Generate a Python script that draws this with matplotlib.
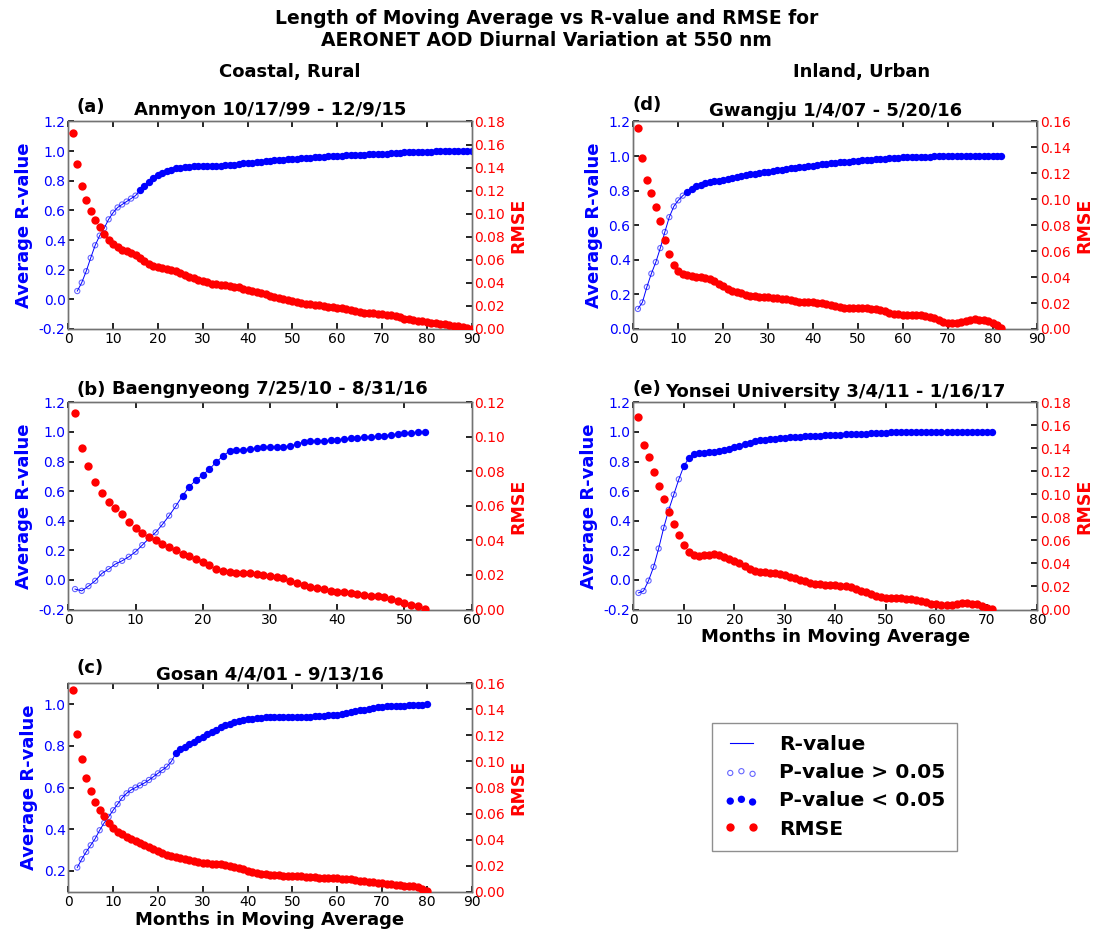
import numpy as np
import matplotlib
matplotlib.use("Agg")
import matplotlib.pyplot as plt
from matplotlib.lines import Line2D

# ---------------- data ----------------
# (a) Anmyon
a_r_months = np.arange(2, 91)
a_r = [0.056, 0.113, 0.19, 0.28, 0.365, 0.43, 0.48, 0.54, 0.585,
       0.62, 0.64, 0.66, 0.68, 0.70, 0.735, 0.765, 0.795, 0.82, 0.838,
       0.853, 0.865, 0.875, 0.883, 0.889, 0.893, 0.896, 0.898, 0.899, 0.900,
       0.901, 0.902, 0.902, 0.903, 0.904, 0.906, 0.909, 0.913, 0.917, 0.920,
       0.923, 0.926, 0.929, 0.932, 0.935, 0.937, 0.940, 0.942, 0.944, 0.947,
       0.950, 0.953, 0.955, 0.957, 0.959, 0.961, 0.963, 0.964, 0.966, 0.968,
       0.969, 0.971, 0.972, 0.974, 0.975, 0.977, 0.978, 0.979, 0.980, 0.981,
       0.983, 0.985, 0.987, 0.989, 0.991, 0.993, 0.994, 0.995, 0.996, 0.997,
       0.997, 0.998, 0.998, 0.998, 0.999, 0.999, 0.999, 1.0, 1.0, 1.0]
a_e_months = np.arange(1, 91)
a_e = [0.170, 0.1433, 0.124, 0.1118, 0.1023, 0.0942, 0.0881, 0.0821, 0.0769, 0.074,
       0.0708, 0.0688, 0.0673, 0.0659, 0.0639, 0.0615, 0.0592, 0.0566, 0.0549, 0.0537,
       0.0529, 0.052, 0.0509, 0.050, 0.0485, 0.0471, 0.0454, 0.0439, 0.0425, 0.0413,
       0.0405, 0.0393, 0.039, 0.0385, 0.038, 0.0375, 0.0368, 0.036, 0.035, 0.034,
       0.033, 0.032, 0.031, 0.030, 0.029, 0.028, 0.027, 0.026, 0.025, 0.024,
       0.023, 0.0225, 0.022, 0.0215, 0.021, 0.0205, 0.020, 0.0195, 0.019, 0.0185,
       0.018, 0.0172, 0.0165, 0.0155, 0.0148, 0.0142, 0.0138, 0.0135, 0.0133, 0.013,
       0.0125, 0.0118, 0.011, 0.010, 0.009, 0.0083, 0.0077, 0.0072, 0.0066, 0.006,
       0.0055, 0.005, 0.0045, 0.004, 0.0036, 0.003, 0.0022, 0.0015, 0.0008, 0.0]
a_sig_from = 16

# (b) Baengnyeong
b_r_months = np.arange(1, 54)
b_r = [-0.062, -0.074, -0.042, -0.006, 0.044, 0.073, 0.107, 0.129, 0.156, 0.190,
       0.235, 0.28, 0.321, 0.375, 0.434, 0.499, 0.569, 0.63, 0.675, 0.709,
       0.749, 0.796, 0.837, 0.871, 0.878, 0.88, 0.884, 0.889, 0.896, 0.898,
       0.898, 0.90, 0.905, 0.918, 0.932, 0.936, 0.939, 0.941, 0.943, 0.948,
       0.952, 0.957, 0.961, 0.963, 0.968, 0.97, 0.975, 0.981, 0.986, 0.99,
       0.995, 0.997, 1.0]
b_e_months = np.arange(1, 54)
b_e = [0.114, 0.0937, 0.0831, 0.074, 0.0672, 0.0624, 0.0589, 0.0551, 0.0506, 0.0471,
       0.0444, 0.0421, 0.0402, 0.0381, 0.0363, 0.0342, 0.0323, 0.0309, 0.0294, 0.0274,
       0.0255, 0.0236, 0.0224, 0.0216, 0.0214, 0.0213, 0.0209, 0.0205, 0.0201, 0.0195,
       0.0189, 0.018, 0.0166, 0.0155, 0.0141, 0.0131, 0.0124, 0.0116, 0.0108, 0.0102,
       0.0099, 0.0095, 0.0089, 0.0085, 0.0081, 0.0077, 0.0072, 0.006, 0.005, 0.0035,
       0.0025, 0.0019, 0.0004]
b_sig_from = 17

# (c) Gosan
c_r_months = np.arange(2, 81)
c_r = [0.216, 0.256, 0.291, 0.323, 0.355, 0.395, 0.43, 0.459, 0.491,
       0.52, 0.55, 0.572, 0.588, 0.60, 0.61, 0.622, 0.636, 0.652, 0.668,
       0.684, 0.70, 0.725, 0.765, 0.783, 0.795, 0.808, 0.82, 0.832, 0.843,
       0.855, 0.866, 0.877, 0.888, 0.898, 0.906, 0.913, 0.919, 0.924, 0.928,
       0.931, 0.933, 0.935, 0.936, 0.937, 0.937, 0.937, 0.937, 0.937, 0.937,
       0.938, 0.938, 0.939, 0.940, 0.941, 0.942, 0.944, 0.946, 0.948, 0.950,
       0.954, 0.958, 0.962, 0.966, 0.970, 0.974, 0.978, 0.982, 0.985, 0.987,
       0.989, 0.990, 0.991, 0.992, 0.993, 0.994, 0.995, 0.996, 0.998, 1.0]
c_e_months = np.arange(1, 81)
c_e = [0.155, 0.121, 0.102, 0.0876, 0.0776, 0.069, 0.0627, 0.058, 0.0525, 0.0486,
       0.046, 0.0443, 0.0422, 0.0402, 0.0387, 0.0371, 0.0355, 0.034, 0.0326, 0.031,
       0.0295, 0.0283, 0.0273, 0.0264, 0.0256, 0.0248, 0.0241, 0.0234, 0.0228, 0.0223,
       0.0219, 0.0216, 0.0213, 0.021, 0.0205, 0.0198, 0.0189, 0.018, 0.0171, 0.0162,
       0.0154, 0.0146, 0.0139, 0.0133, 0.0128, 0.0126, 0.0125, 0.0124, 0.0124, 0.0123,
       0.0121, 0.0118, 0.0115, 0.0112, 0.011, 0.0108, 0.0106, 0.0104, 0.0103, 0.0102,
       0.0101, 0.01, 0.0096, 0.009, 0.0084, 0.008, 0.0076, 0.0072, 0.0068, 0.0064,
       0.006, 0.0056, 0.0052, 0.0048, 0.0046, 0.0045, 0.0044, 0.0033, 0.0018, 0.0003]
c_sig_from = 24

# (d) Gwangju
d_r_months = np.arange(1, 83)
d_r = [0.116, 0.154, 0.243, 0.32, 0.387, 0.468, 0.561, 0.647, 0.709, 0.744,
       0.771, 0.792, 0.811, 0.825, 0.834, 0.843, 0.849, 0.854, 0.858, 0.863,
       0.868, 0.874, 0.879, 0.884, 0.889, 0.894, 0.898, 0.902, 0.906, 0.909,
       0.913, 0.917, 0.921, 0.925, 0.929, 0.932, 0.936, 0.939, 0.942, 0.945,
       0.948, 0.952, 0.955, 0.958, 0.961, 0.963, 0.966, 0.968, 0.970, 0.973,
       0.975, 0.977, 0.979, 0.981, 0.983, 0.985, 0.987, 0.989, 0.991, 0.993,
       0.994, 0.995, 0.996, 0.996, 0.997, 0.997, 0.998, 0.998, 0.998, 0.999,
       0.999, 0.999, 0.999, 0.999, 1.0, 1.0, 1.0, 1.0, 1.0, 1.0,
       1.0, 1.0]
d_e_months = np.arange(1, 83)
d_e = [0.155, 0.1317, 0.115, 0.1045, 0.0943, 0.083, 0.0683, 0.058, 0.0496, 0.0444,
       0.0424, 0.0413, 0.0406, 0.040, 0.0398, 0.0393, 0.0383, 0.0367, 0.0349, 0.0329,
       0.0311, 0.0295, 0.0285, 0.0275, 0.0265, 0.0257, 0.0252, 0.0247, 0.0244, 0.0244,
       0.0239, 0.0236, 0.0234, 0.023, 0.0225, 0.0218, 0.0211, 0.0206, 0.0205, 0.0205,
       0.0203, 0.02, 0.0195, 0.0188, 0.018, 0.0172, 0.0165, 0.0162, 0.0161, 0.0161,
       0.0161, 0.016, 0.0158, 0.0152, 0.0144, 0.0135, 0.0125, 0.0117, 0.0112, 0.011,
       0.011, 0.011, 0.0109, 0.0107, 0.0103, 0.0095, 0.0083, 0.007, 0.0057, 0.0047,
       0.0045, 0.0048, 0.0054, 0.0062, 0.0069, 0.0074, 0.0073, 0.0068, 0.0058, 0.0045,
       0.0028, 0.0008]
d_sig_from = 12

# (e) Yonsei University
e_r_months = np.arange(1, 72)
e_r = [-0.088, -0.075, -0.005, 0.088, 0.212, 0.352, 0.473, 0.577, 0.68, 0.77,
       0.823, 0.852, 0.858, 0.86, 0.862, 0.865, 0.87, 0.878, 0.887, 0.896,
       0.907, 0.917, 0.927, 0.936, 0.942, 0.946, 0.950, 0.954, 0.958, 0.961,
       0.963, 0.965, 0.967, 0.969, 0.971, 0.973, 0.975, 0.977, 0.978, 0.980,
       0.981, 0.983, 0.984, 0.985, 0.987, 0.988, 0.990, 0.992, 0.994, 0.995,
       0.996, 0.997, 0.997, 0.998, 0.998, 0.999, 0.999, 0.999, 1.0, 1.0,
       1.0, 1.0, 1.0, 1.0, 1.0, 1.0, 1.0, 1.0, 1.0, 1.0,
       1.0]
e_e_months = np.arange(1, 72)
e_e = [0.1673, 0.1433, 0.1323, 0.1193, 0.1072, 0.0962, 0.0849, 0.074, 0.0644, 0.056,
       0.050, 0.0474, 0.0468, 0.0471, 0.0477, 0.048, 0.0477, 0.0459, 0.0439, 0.0422,
       0.0402, 0.0378, 0.0352, 0.0335, 0.0329, 0.0324, 0.0321, 0.0315, 0.0306, 0.0296,
       0.0285, 0.0272, 0.0258, 0.0245, 0.0233, 0.0224, 0.0218, 0.0215, 0.0214, 0.0213,
       0.0208, 0.0201, 0.0192, 0.0179, 0.0165, 0.015, 0.0135, 0.0121, 0.011, 0.0102,
       0.0099, 0.0098, 0.0097, 0.0095, 0.0092, 0.0085, 0.0075, 0.0063, 0.0052, 0.0044,
       0.004, 0.0039, 0.0043, 0.0048, 0.0053, 0.0055, 0.0052, 0.0044, 0.0032, 0.0016,
       0.0004]
e_sig_from = 10

titles = ["Anmyon 10/17/99 - 12/9/15", "Baengnyeong 7/25/10 - 8/31/16",
          "Gosan 4/4/01 - 9/13/16", "Gwangju 1/4/07 - 5/20/16",
          "Yonsei University 3/4/11 - 1/16/17"]
letters = ["(a)", "(b)", "(c)", "(d)", "(e)"]

# ---------------- figure ----------------
W, H = 1093, 930
fig = plt.figure(figsize=(W / 100, H / 100), dpi=100)
plt.rcParams["font.family"] = ["DejaVu Sans"]
plt.rcParams["axes.unicode_minus"] = True


def rect(left, right, top, bottom):
    return [left / W, 1 - bottom / H, (right - left) / W, (bottom - top) / H]


FS = 13
TICKFS = 10
OPEN_S = 14
FILL_S = 28
RED_MS = 6.0


def panel(rct, rm, r, em, e, sig_from, xmax, rlim, rticks, elim, eticks,
          title, tpad, xlabel=False):
    rm = np.asarray(rm)
    r = np.asarray(r)
    ax = fig.add_axes(rct)
    ax.plot(rm, r, color="blue", lw=0.7, zorder=2)
    ns = rm < sig_from
    ax.scatter(rm[ns], r[ns], s=OPEN_S, facecolors="none", edgecolors="blue",
               linewidths=0.8, alpha=0.6, zorder=3)
    ax.scatter(rm[~ns], r[~ns], s=FILL_S, color="blue", linewidths=0, zorder=3)
    ax.set_xlim(0, xmax)
    ax.set_xticks(np.arange(0, xmax + 1, 10))
    ax.set_ylim(*rlim)
    ax.set_yticks(rticks)
    ax.yaxis.set_major_formatter(matplotlib.ticker.FormatStrFormatter("%.1f"))
    ax.tick_params(direction="in", top=True, length=4, width=1.2,
                   labelsize=TICKFS)
    ax.tick_params(axis="x", pad=2.5)
    ax.tick_params(axis="y", labelcolor="blue", color="black", pad=2)
    ax.set_ylabel("Average R-value", color="blue", fontsize=FS,
                  fontweight="bold", labelpad=4)
    ax.set_title(title, fontsize=FS, fontweight="bold", pad=tpad)
    if xlabel:
        ax.set_xlabel("Months in Moving Average", fontsize=FS,
                      fontweight="bold", labelpad=1)

    ax2 = ax.twinx()
    ax2.plot(em, e, "o", color="red", ms=RED_MS, mew=0, zorder=4)
    ax2.set_ylim(*elim)
    ax2.set_yticks(eticks)
    ax2.yaxis.set_major_formatter(matplotlib.ticker.FormatStrFormatter("%.2f"))
    ax2.tick_params(direction="in", length=4, width=1.2, labelsize=TICKFS,
                    labelcolor="red", pad=2)
    ax2.set_ylabel("RMSE", color="red", fontsize=12.5, fontweight="bold",
                   labelpad=3)
    for a in (ax, ax2):
        for sp in a.spines.values():
            sp.set_color("0.45")
            sp.set_linewidth(1.0)
    return ax, ax2


LX0, LX1 = 68.3, 471.7
RX0, RX1 = 633.4, 1037.4
ROWS = [(121.5, 329.0), (402.3, 609.5), (683.3, 891.7)]

panel(rect(LX0, LX1, *ROWS[0]), a_r_months, a_r, a_e_months, a_e, a_sig_from,
      90, (-0.2, 1.2), np.arange(-0.2, 1.21, 0.2), (0, 0.18),
      np.arange(0, 0.181, 0.02), titles[0], 5)
panel(rect(LX0, LX1, *ROWS[1]), b_r_months, b_r, b_e_months, b_e, b_sig_from,
      60, (-0.2, 1.2), np.arange(-0.2, 1.21, 0.2), (0, 0.12),
      np.arange(0, 0.121, 0.02), titles[1], 6)
panel(rect(LX0, LX1, *ROWS[2]), c_r_months, c_r, c_e_months, c_e, c_sig_from,
      90, (0.1, 1.1), np.arange(0.2, 1.01, 0.2), (0, 0.16),
      np.arange(0, 0.161, 0.02), titles[2], 1.5, xlabel=True)
panel(rect(RX0, RX1, *ROWS[0]), d_r_months, d_r, d_e_months, d_e, d_sig_from,
      90, (0.0, 1.2), np.arange(0.0, 1.21, 0.2), (0, 0.16),
      np.arange(0, 0.161, 0.02), titles[3], 4)
panel(rect(RX0, RX1, *ROWS[1]), e_r_months, e_r, e_e_months, e_e, e_sig_from,
      80, (-0.2, 1.2), np.arange(-0.2, 1.21, 0.2), (0, 0.18),
      np.arange(0, 0.181, 0.02), titles[4], 3.7, xlabel=True)

# panel letters
letter_pos = [(77, 107.5), (77, 390), (77, 668), (633, 105.5), (633, 389.5)]
for lab, (px, py) in zip(letters, letter_pos):
    fig.text(px / W, 1 - py / H, lab, ha="left", va="center", fontsize=FS,
             fontweight="bold")

# titles / headers
fig.text(0.5, 1 - 19 / H, "Length of Moving Average vs R-value and RMSE for",
         ha="center", va="center", fontsize=13.5, fontweight="bold")
fig.text(0.5, 1 - 40 / H, "AERONET AOD Diurnal Variation at 550 nm",
         ha="center", va="center", fontsize=13.5, fontweight="bold")
fig.text(290 / W, 1 - 72 / H, "Coastal, Rural", ha="center", va="center",
         fontsize=FS, fontweight="bold")
fig.text(862 / W, 1 - 72 / H, "Inland, Urban", ha="center", va="center",
         fontsize=FS, fontweight="bold")

# legend
h_line = Line2D([], [], color="blue", lw=0.8)
h_ns = plt.scatter([], [], s=OPEN_S, facecolors="none", edgecolors="blue",
                   linewidths=0.8, alpha=0.6)
h_sig = plt.scatter([], [], s=FILL_S, color="blue", linewidths=0)
h_rmse = Line2D([], [], ls="none", marker="o", color="red", ms=RED_MS, mew=0)
leg = fig.legend([h_line, h_ns, h_sig, h_rmse],
                 ["R-value", "P-value > 0.05", "P-value < 0.05", "RMSE"],
                 loc="upper left", bbox_to_anchor=(712 / W, 1 - 723 / H),
                 borderaxespad=0, numpoints=2, scatterpoints=3,
                 scatteryoffsets=[0.375, 0.5, 0.3125],
                 prop={"size": 14.6, "weight": "bold"}, fancybox=False,
                 frameon=True, handlelength=1.7, handletextpad=1.0,
                 labelspacing=0.45, borderpad=0.6)
leg.get_frame().set_edgecolor("0.45")
leg.get_frame().set_linewidth(1.0)

fig.savefig("out.png", dpi=100)
